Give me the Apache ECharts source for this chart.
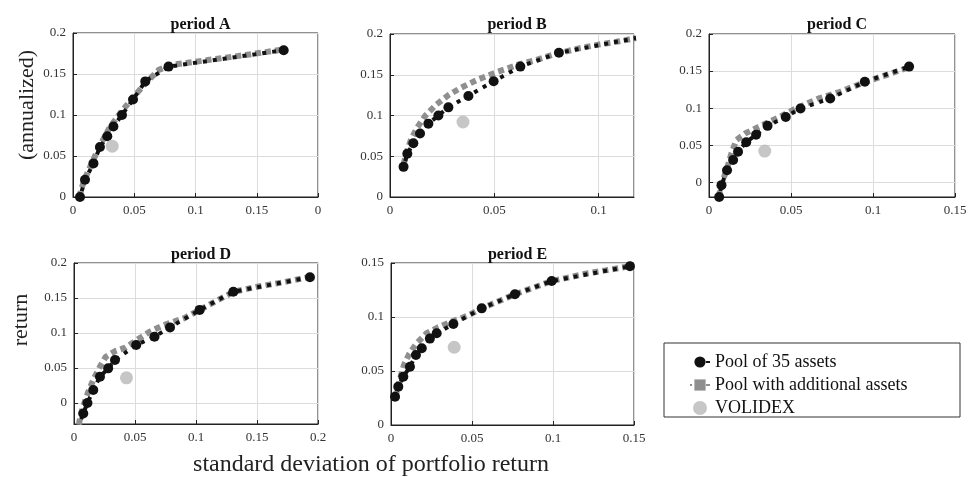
<!DOCTYPE html>
<html>
<head>
<meta charset="utf-8">
<script src="https://cdn.jsdelivr.net/npm/echarts@6/dist/echarts.min.js"></script>
<style>
html, body { margin: 0; padding: 0; background: #fff; }
#main { width: 970px; height: 477px; }
</style>
</head>
<body>
<div id="main"></div>
<script>
// panel titles
let titles = ['period A', 'period B', 'period C', 'period D', 'period E'];

// Pool of 35 assets  [std dev, return]
let poolA = [[0.0057,0],[0.0098,0.021],[0.0167,0.041],[0.022,0.061],[0.028,0.074],[0.033,0.086],[0.04,0.1],[0.049,0.119],[0.059,0.141],[0.078,0.159],[0.172,0.179]];
let poolB = [[0.0065,0.037],[0.0083,0.053],[0.0112,0.066],[0.0144,0.078],[0.0184,0.09],[0.0232,0.1],[0.028,0.11],[0.0376,0.124],[0.0497,0.142],[0.0625,0.16],[0.081,0.177],[0.118,0.195]];
let poolC = [[0.0062,-0.02],[0.0076,-0.004],[0.011,0.016],[0.0147,0.03],[0.0177,0.041],[0.0227,0.054],[0.0287,0.064],[0.0357,0.076],[0.0468,0.088],[0.0558,0.0995],[0.0739,0.113],[0.095,0.1355],[0.122,0.156]];
let poolD = [[0.0041,-0.031],[0.0076,-0.015],[0.011,0],[0.0158,0.0186],[0.0213,0.0376],[0.028,0.0495],[0.0336,0.0614],[0.051,0.0829],[0.066,0.0947],[0.0787,0.108],[0.103,0.133],[0.1306,0.159],[0.1934,0.1796]];
let poolE = [[0.0025,0.0262],[0.0045,0.0355],[0.0076,0.0447],[0.0117,0.054],[0.0154,0.0648],[0.019,0.071],[0.024,0.08],[0.0282,0.085],[0.0385,0.0935],[0.056,0.108],[0.0765,0.121],[0.0992,0.1333],[0.1475,0.147]];

// Pool with additional assets
let addA = [[0.005,0],[0.009,0.02],[0.015,0.04],[0.021,0.06],[0.03,0.085],[0.04,0.105],[0.05,0.123],[0.06,0.14],[0.07,0.155],[0.08,0.161],[0.11,0.167],[0.14,0.173],[0.172,0.18]];
let addB = [[0.0065,0.04],[0.008,0.055],[0.01,0.07],[0.013,0.085],[0.017,0.1],[0.022,0.113],[0.028,0.125],[0.034,0.134],[0.042,0.144],[0.051,0.153],[0.061,0.162],[0.07,0.168],[0.08,0.176],[0.09,0.182],[0.1,0.187],[0.11,0.191],[0.118,0.195]];
let addC = [[0.006,-0.02],[0.0066,-0.013],[0.0086,0.003],[0.0116,0.023],[0.0137,0.039],[0.0167,0.057],[0.0223,0.066],[0.0287,0.073],[0.0353,0.08],[0.043,0.088],[0.053,0.0995],[0.067,0.113],[0.08,0.122],[0.095,0.135],[0.11,0.146],[0.123,0.156]];
let addD = [[0.004,-0.031],[0.0049,-0.022],[0.007,-0.0076],[0.0117,0.016],[0.0158,0.033],[0.0213,0.052],[0.026,0.066],[0.0336,0.074],[0.042,0.079],[0.0527,0.0914],[0.0623,0.102],[0.0732,0.111],[0.09,0.121],[0.103,0.133],[0.118,0.147],[0.131,0.159],[0.15,0.166],[0.17,0.172],[0.193,0.18]];
let addE = [[0.0025,0.026],[0.0035,0.031],[0.0056,0.043],[0.008,0.0556],[0.0113,0.066],[0.0158,0.0756],[0.022,0.085],[0.029,0.0904],[0.0374,0.0957],[0.047,0.101],[0.056,0.108],[0.0765,0.121],[0.0992,0.1333],[0.12,0.14],[0.1475,0.147]];

// VOLIDEX
let volA = [0.032, 0.062];
let volB = [0.035, 0.092];
let volC = [0.034, 0.042];
let volD = [0.043, 0.036];
let volE = [0.039, 0.072];

// axis ranges
let xMax = [0.2, 0.117, 0.15, 0.2, 0.15];
let yMin = [0, 0, -0.02, -0.03, 0];
let yMax = [0.2, 0.2, 0.2, 0.2, 0.15];

let pools = [poolA, poolB, poolC, poolD, poolE];
let adds = [addA, addB, addC, addD, addE];
let vols = [volA, volB, volC, volD, volE];

let serif = 'Liberation Serif';

// grid positions in pixels
let boxes = [
	{left: 73, top: 33, width: 245, height: 164},
	{left: 390, top: 34, width: 244, height: 163},
	{left: 709, top: 34, width: 246, height: 163},
	{left: 74, top: 263, width: 244, height: 161},
	{left: 391, top: 263, width: 243, height: 162}
];

let grid = [], xAxis = [], yAxis = [], series = [], title = [];

for (let i = 0; i < 5; i++) {
	let b = boxes[i];
	grid.push({
		left: b.left, top: b.top, width: b.width, height: b.height,
		show: true, borderColor: '#222', borderWidth: 1
	});

	title.push({
		text: titles[i],
		left: b.left + b.width / 2,
		top: i < 3 ? 12 : 242,
		textAlign: 'center',
		textStyle: {fontFamily: serif, fontWeight: 'bold', fontSize: 16, color: '#111'}
	});

	xAxis.push({
		gridIndex: i,
		type: 'value',
		min: 0,
		max: xMax[i],
		interval: 0.05,
		axisLine: {show: true, onZero: false, lineStyle: {color: '#222', width: 1}},
		axisTick: {show: true, inside: true, length: 4, lineStyle: {color: '#222'}},
		splitLine: {show: true, lineStyle: {color: '#dcdcdc'}},
		axisLabel: {
			fontFamily: serif, fontSize: 13, color: '#333', margin: 7,
			showMaxLabel: i !== 1,
			// panel A shows a clipped "0" at the right end
			formatter: function (v) { return (i === 0 && v >= 0.2) ? '0' : String(v); }
		}
	});

	let y = {
		gridIndex: i,
		type: 'value',
		min: yMin[i],
		max: yMax[i],
		axisLine: {show: true, onZero: false, lineStyle: {color: '#222', width: 1}},
		axisTick: {show: true, inside: true, length: 4, lineStyle: {color: '#222'}},
		splitLine: {show: true, lineStyle: {color: '#dcdcdc'}},
		axisLabel: {fontFamily: serif, fontSize: 13, color: '#333', margin: 7}
	};
	if (yMin[i] === 0) {
		y.interval = 0.05;
	} else {
		y.splitNumber = 5;
		y.axisLabel.showMinLabel = false;
	}
	yAxis.push(y);

	series.push({
		type: 'line',
		name: 'Pool with additional assets',
		xAxisIndex: i, yAxisIndex: i,
		data: adds[i],
		symbol: 'rect', symbolSize: 6, showSymbol: false,
		itemStyle: {color: '#8f8f8f'},
		lineStyle: {color: '#8f8f8f', width: 6, type: [6, 4]},
		z: 2
	});
	series.push({
		type: 'line',
		name: 'Pool of 35 assets',
		xAxisIndex: i, yAxisIndex: i,
		data: pools[i],
		symbol: 'circle', symbolSize: 10, showSymbol: true,
		itemStyle: {color: '#111'},
		lineStyle: {color: '#111', width: 4, type: [4, 6], dashOffset: 4},
		z: 3
	});
	series.push({
		type: 'scatter',
		name: 'VOLIDEX',
		xAxisIndex: i, yAxisIndex: i,
		data: [vols[i]],
		symbolSize: 13,
		itemStyle: {color: '#b8b8b8'},
		z: 4
	});
}

let myChart = echarts.init(document.getElementById('main'));

let option = {
	animation: false,
	backgroundColor: '#fff',
	title: title,
	grid: grid,
	xAxis: xAxis,
	yAxis: yAxis,
	series: series,
	legend: {
		left: 684, top: 348,
		orient: 'vertical',
		itemGap: 5, itemWidth: 20, itemHeight: 14,
		textStyle: {fontFamily: serif, fontSize: 18, color: '#111'},
		data: ['Pool of 35 assets', 'Pool with additional assets', 'VOLIDEX']
	},
	graphic: [
		// legend frame
		{type: 'rect', shape: {x: 664, y: 343, width: 296, height: 74}, style: {fill: 'none', stroke: '#333', lineWidth: 1}},
		// axis names
		{type: 'text', x: 27, y: 105, rotation: Math.PI / 2,
			style: {text: '(annualized)', align: 'center', verticalAlign: 'middle', font: '22px "Liberation Serif"', fill: '#222'}},
		{type: 'text', x: 21, y: 320, rotation: Math.PI / 2,
			style: {text: 'return', align: 'center', verticalAlign: 'middle', font: '22px "Liberation Serif"', fill: '#222'}},
		{type: 'text', x: 371, y: 465,
			style: {text: 'standard deviation of portfolio return', align: 'center', verticalAlign: 'middle', font: '24px "Liberation Serif"', fill: '#222'}}
	]
};
myChart.setOption(option);
</script>
</body>
</html>
